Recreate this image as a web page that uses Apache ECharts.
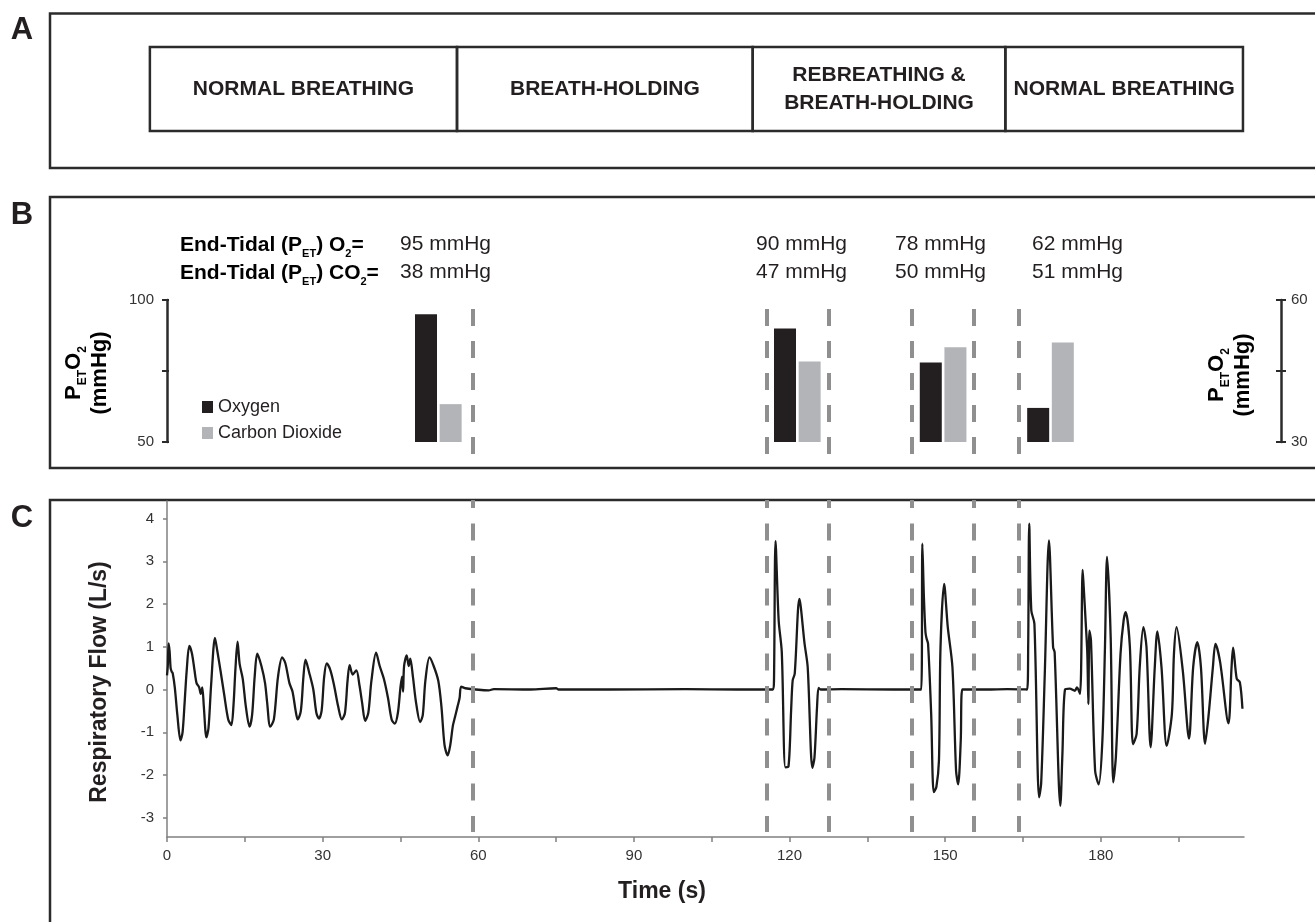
<!DOCTYPE html>
<html>
<head>
<meta charset="utf-8">
<script src="https://cdn.jsdelivr.net/npm/echarts@6/dist/echarts.min.js"></script>
<style>
html,body{margin:0;padding:0;background:#fff;}
#chart{width:1315px;height:922px;}
</style>
</head>
<body>
<div id="chart"></div>
<script>
// ---------------- DATA ----------------
const phaseNames = ['NORMAL BREATHING', 'BREATH-HOLDING', 'REBREATHING &\nBREATH-HOLDING', 'NORMAL BREATHING'];
const phaseBounds = [-3.3, 55.9, 112.9, 161.6, 207.4];          // s
const barTimes = [52.3, 121.5, 149.6, 170.3];                    // s
const o2Values = [95, 90, 78, 62];                               // mmHg
const co2Values = [38, 47, 50, 51];                              // mmHg
const dashTimes = [59.0, 115.6, 127.6, 143.6, 155.5, 164.2];     // s
const o2Ticks = [50, 75, 100];
const o2TickLabels = [50, 100];
const co2Ticks = [30, 45, 60];
const co2TickLabels = [30, 60];
const flowTicks = [-3, -2, -1, 0, 1, 2, 3, 4];
const timeTickLabels = [0, 30, 60, 90, 120, 150, 180];
const timeTicks = [0, 15, 30, 45, 60, 75, 90, 105, 120, 135, 150, 165, 180, 195];
const respFlow = [
  [0,0.33],[0.15,0.55],[0.3,1.08],[0.5,0.9],[0.7,0.5],[0.9,0.42],[1.1,0.38],[1.5,0.05],[2.0,-0.6],[2.6,-1.19],
  [3.0,-1.0],[3.4,-0.3],[3.8,0.45],[4.3,1.02],[4.8,0.85],[5.3,0.45],[5.7,0.15],[6.2,0.05],[6.5,-0.1],[6.8,0.05],
  [7.1,-0.4],[7.6,-1.12],[8.0,-0.9],[8.5,0.1],[9.25,1.21],[9.7,0.9],[10.3,0.45],[11.0,-0.1],[11.8,-0.7],[12.4,-0.83],
  [12.8,-0.4],[13.2,0.5],[13.6,1.12],[14.0,0.6],[14.6,0.25],[15.2,-0.4],[15.9,-0.87],[16.4,-0.6],[16.9,0.3],[17.4,0.84],
  [18.2,0.55],[18.9,0.15],[19.3,-0.3],[19.9,-0.87],[20.6,-0.7],[21.4,0.3],[22.2,0.75],[22.8,0.62],[23.6,0.15],[24.2,-0.05],
  [24.8,-0.5],[25.2,-0.7],[25.8,-0.5],[26.3,0.3],[26.7,0.7],[27.4,0.4],[28.2,0.0],[28.8,-0.55],[29.3,-0.68],[29.8,-0.5],
  [30.3,0.3],[30.8,0.61],[31.5,0.45],[32.2,0.1],[33.0,-0.4],[33.7,-0.7],[34.3,-0.55],[34.8,0.2],[35.2,0.57],[35.8,0.35],
  [36.5,0.45],[37.1,0.1],[37.6,-0.3],[38.2,-0.73],[38.8,-0.55],[39.4,0.2],[40.3,0.86],[41.0,0.55],[41.8,0.25],[42.6,-0.2],
  [43.3,-0.7],[43.9,-0.8],[44.5,-0.55],[45.0,0.05],[45.3,0.3],[45.5,-0.05],[45.7,0.55],[46.2,0.8],[46.6,0.55],[46.9,0.72],
  [47.4,0.3],[48.0,-0.3],[48.8,-0.76],[49.3,-0.6],[49.8,0.2],[50.6,0.75],[51.4,0.55],[52.3,0.2],[52.9,-0.4],[53.5,-1.3],
  [54.1,-1.54],[54.6,-1.3],[55.1,-0.85],[55.5,-0.65],[56.0,-0.4],[56.4,-0.2],[56.7,0.07],[57.5,0.03],
  [62.0,-0.02],[63.0,0.01],[70.0,0.0],[75.0,0.03],[75.5,0.0],[85.0,0.0],[100.0,0.01],[110.0,0.0],[116.8,0.0],
  [117.0,0.2],[117.3,3.47],[117.9,1.62],[118.5,0.88],[119.2,-1.82],[119.8,-1.8],[120.3,-0.5],[120.6,0.21],[121.0,0.37],
  [121.9,2.12],[122.9,1.07],[123.5,0.52],[124.4,-1.83],[124.8,-1.6],[125.3,-0.41],[125.6,0.04],[126.0,0.0],
  [130.0,0.01],[140.0,0.0],[145.4,0.0],
  [145.6,3.41],[145.9,2.16],[146.2,1.34],[146.4,1.2],[146.7,1.07],[147.3,-0.57],[147.8,-2.4],[148.3,-2.28],[148.8,-1.66],
  [149.1,0.99],[149.8,2.47],[150.5,1.46],[151.4,0.52],[152.1,-1.9],[152.5,-2.22],[153.0,-1.2],[153.3,0.0],
  [158.0,0.0],[162.0,0.01],[165.8,0.0],
  [166.0,1.0],[166.2,3.88],[166.6,1.85],[167.2,1.54],[168.1,-2.52],[168.5,-2.2],[169.2,0.37],[170.0,3.49],[170.8,0.99],
  [171.1,0.87],[172.2,-2.72],[172.6,-1.5],[173.1,0.0],[174.0,0.02],[175.0,-0.03],[175.4,0.05],[176.0,-0.1],[176.5,2.8],
  [176.7,2.4],[177.1,1.54],[177.4,0.84],[177.6,-0.34],[177.8,1.38],[178.1,1.15],[178.9,-1.9],[179.6,-2.22],[180.3,-1.2],
  [180.8,0.99],[181.2,3.1],[181.9,1.23],[182.4,-2.17],[182.9,-1.58],[183.8,0.84],[184.4,1.62],[184.8,1.81],[185.6,1.0],
  [186.2,-1.28],[186.9,-1.04],[187.5,0.52],[188.2,1.46],[188.8,1.0],[189.6,-1.35],[190.4,0.52],[190.9,1.36],[191.7,0.52],
  [192.7,-1.32],[193.7,-0.57],[194.1,0.84],[194.6,1.46],[195.8,0.44],[197.0,-1.15],[197.8,0.52],[198.6,1.11],[199.3,0.52],
  [200.1,-1.27],[200.8,-0.57],[201.6,0.52],[202.1,1.07],[203.0,0.64],[204.6,-0.79],[205.2,0.52],[205.5,0.98],[206.2,0.25],
  [206.8,0.17],[207.3,-0.45]
];

// ---------------- STYLE ----------------
const FONT = "'Liberation Sans', Arial, Helvetica, sans-serif";
const INK = '#231f20';
const FRAME = '#2b2b2b';
const DASH = '#8f8f8f';
const GRID_LEFT = 167, GRID_W = 1077, T_MAX = 207.6;

const chart = echarts.init(document.getElementById('chart'), null, {renderer: 'canvas'});

function hiddenX(gi) {
  return {type: 'value', gridIndex: gi, min: 0, max: T_MAX, show: false};
}
function hiddenY(gi) {
  return {type: 'value', gridIndex: gi, min: 0, max: 1, show: false};
}
function panelAxis(gi, pos, offset, min, max, ticks, labels, inside, margin) {
  return {
    type: 'value', gridIndex: gi, position: pos, offset: offset, min: min, max: max,
    axisLine: {show: !inside, lineStyle: {color: FRAME, width: 2.5}},
    axisTick: {show: true, inside: inside, length: 5, customValues: ticks, lineStyle: {color: FRAME, width: 2}},
    axisLabel: inside ? {show: false} : {show: true, customValues: labels, margin: margin, fontSize: 15, color: '#333', fontFamily: FONT},
    splitLine: {show: false}
  };
}

const richSub = {
  b: {fontSize: 21, fontWeight: 'bold', fontFamily: FONT, color: INK, lineHeight: 22},
  s: {fontSize: 11, fontWeight: 'bold', fontFamily: FONT, color: INK, lineHeight: 11, padding: [18, 0, 0, 0]}
};
const richTitle = {
  b: {fontSize: 22, fontWeight: 'bold', fontFamily: FONT, color: INK, lineHeight: 26},
  s: {fontSize: 12, fontWeight: 'bold', fontFamily: FONT, color: INK, lineHeight: 12, padding: [18, 0, 0, 0]}
};

const valueLeft = [400, 756, 895, 1032];
const graphics = [
  {type: 'rect', silent: true, shape: {x: 50, y: 13.5, width: 1300, height: 154.5}, style: {fill: 'none', stroke: FRAME, lineWidth: 2.5}},
  {type: 'rect', silent: true, shape: {x: 50, y: 197, width: 1300, height: 271}, style: {fill: 'none', stroke: FRAME, lineWidth: 2.5}},
  {type: 'rect', silent: true, shape: {x: 50, y: 500, width: 1300, height: 460}, style: {fill: 'none', stroke: FRAME, lineWidth: 2.5}},
  {type: 'text', silent: true, x: 22, y: 30, style: {text: 'A', fontSize: 31, fontWeight: 'bold', fontFamily: FONT, fill: INK, align: 'center', verticalAlign: 'middle'}},
  {type: 'text', silent: true, x: 22, y: 215, style: {text: 'B', fontSize: 31, fontWeight: 'bold', fontFamily: FONT, fill: INK, align: 'center', verticalAlign: 'middle'}},
  {type: 'text', silent: true, x: 22, y: 518, style: {text: 'C', fontSize: 31, fontWeight: 'bold', fontFamily: FONT, fill: INK, align: 'center', verticalAlign: 'middle'}},
  {type: 'text', silent: true, x: 180, y: 245, style: {text: '{b|End-Tidal (P}{s|ET}{b|) O}{s|2}{b|=}', rich: richSub, align: 'left', verticalAlign: 'middle'}},
  {type: 'text', silent: true, x: 180, y: 273, style: {text: '{b|End-Tidal (P}{s|ET}{b|) CO}{s|2}{b|=}', rich: richSub, align: 'left', verticalAlign: 'middle'}},
  {type: 'text', silent: true, x: 87, y: 373, rotation: Math.PI / 2, style: {text: '{b|P}{s|ET}{b|O}{s|2}\n{b|(mmHg)}', rich: richTitle, align: 'center', verticalAlign: 'middle'}},
  {type: 'text', silent: true, x: 1230, y: 375, rotation: Math.PI / 2, style: {text: '{b|P}{s|ET}{b|O}{s|2}\n{b|(mmHg)}', rich: richTitle, align: 'center', verticalAlign: 'middle'}},
  {type: 'text', silent: true, x: 100, y: 682, rotation: Math.PI / 2, style: {text: 'Respiratory Flow (L/s)', fontSize: 23, fontWeight: 'bold', fontFamily: FONT, fill: INK, align: 'center', verticalAlign: 'middle'}},
  {type: 'text', silent: true, x: 662, y: 892, style: {text: 'Time (s)', fontSize: 23, fontWeight: 'bold', fontFamily: FONT, fill: INK, align: 'center', verticalAlign: 'middle'}}
];
o2Values.forEach(function (v, i) {
  graphics.push({type: 'text', silent: true, x: valueLeft[i], y: 244, style: {text: v + ' mmHg', fontSize: 21, fontFamily: FONT, fill: INK, align: 'left', verticalAlign: 'middle'}});
  graphics.push({type: 'text', silent: true, x: valueLeft[i], y: 272, style: {text: co2Values[i] + ' mmHg', fontSize: 21, fontFamily: FONT, fill: INK, align: 'left', verticalAlign: 'middle'}});
});

const option = {
  animation: false,
  backgroundColor: '#fff',
  textStyle: {fontFamily: FONT},
  legend: {
    data: ['Oxygen', 'Carbon Dioxide'], orient: 'vertical', left: 202, top: 398, padding: 0,
    itemWidth: 11, itemHeight: 12, itemGap: 8, icon: 'rect',
    textStyle: {fontSize: 18, color: INK, fontFamily: FONT}
  },
  grid: [
    {left: GRID_LEFT, width: GRID_W, top: 47, height: 84},
    {left: GRID_LEFT, width: GRID_W, top: 300, height: 142},
    {left: GRID_LEFT, width: GRID_W, top: 309, height: 146},
    {left: GRID_LEFT, width: GRID_W, top: 501, height: 336},
    {left: GRID_LEFT, width: GRID_W, top: 500, height: 332}
  ],
  xAxis: [
    hiddenX(0), hiddenX(1), hiddenX(2),
    {
      type: 'value', gridIndex: 3, min: 0, max: T_MAX,
      axisLine: {show: true, onZero: false, lineStyle: {color: '#808080', width: 1.5}},
      axisTick: {show: true, length: 5, customValues: timeTicks, lineStyle: {color: '#808080', width: 1.5}},
      axisLabel: {customValues: timeTickLabels, margin: 11, fontSize: 15, color: '#333', fontFamily: FONT},
      splitLine: {show: false}
    },
    hiddenX(4)
  ],
  yAxis: [
    hiddenY(0),
    panelAxis(1, 'left', 3, 50, 100, o2Ticks, o2TickLabels, false, 10),
    panelAxis(1, 'right', 37, 30, 60, co2Ticks, co2TickLabels, false, 10),
    panelAxis(1, 'left', 3, 50, 100, o2Ticks, o2TickLabels, true, 10),
    panelAxis(1, 'right', 37, 30, 60, co2Ticks, co2TickLabels, true, 10),
    hiddenY(2),
    {
      type: 'value', gridIndex: 3, min: -3.45, max: 4.41,
      axisLine: {show: true, onZero: false, lineStyle: {color: '#808080', width: 1.5}},
      axisTick: {show: true, length: 4, customValues: flowTicks, lineStyle: {color: '#808080', width: 1.5}},
      axisLabel: {customValues: flowTicks, margin: 13, fontSize: 15, color: '#333', fontFamily: FONT},
      splitLine: {show: false}
    },
    hiddenY(4)
  ],
  series: [
    {
      type: 'custom', name: 'phases', xAxisIndex: 0, yAxisIndex: 0, clip: false, silent: true,
      data: phaseNames.map(function (n, i) { return [phaseBounds[i], phaseBounds[i + 1], i]; }),
      renderItem: function (params, api) {
        const p0 = api.coord([api.value(0), 1]);
        const p1 = api.coord([api.value(1), 0]);
        return {
          type: 'group',
          children: [
            {type: 'rect', shape: {x: p0[0], y: p0[1], width: p1[0] - p0[0], height: p1[1] - p0[1]},
             style: {fill: 'rgba(0,0,0,0)', stroke: FRAME, lineWidth: 2.5}},
            {type: 'text', style: {text: phaseNames[params.dataIndex], x: (p0[0] + p1[0]) / 2, y: (p0[1] + p1[1]) / 2,
             align: 'center', verticalAlign: 'middle', fontSize: 21, fontWeight: 'bold', fontFamily: FONT, lineHeight: 28, fill: INK}}
          ]
        };
      }
    },
    {
      type: 'bar', name: 'Oxygen', xAxisIndex: 1, yAxisIndex: 1, barWidth: 22, barGap: '12%', clip: true,
      itemStyle: {color: INK},
      data: barTimes.map(function (t, i) { return [t, o2Values[i]]; })
    },
    {
      type: 'bar', name: 'Carbon Dioxide', xAxisIndex: 1, yAxisIndex: 2, barWidth: 22, barGap: '12%', clip: true,
      itemStyle: {color: '#b2b4b7'},
      data: barTimes.map(function (t, i) { return [t, co2Values[i]]; })
    },
    {
      type: 'lines', coordinateSystem: 'cartesian2d', xAxisIndex: 2, yAxisIndex: 5, silent: true, z: 5,
      lineStyle: {color: DASH, width: 4, opacity: 1, type: [17, 15]},
      data: dashTimes.map(function (t) { return {coords: [[t, 1], [t, 0]]}; })
    },
    {
      type: 'line', name: 'Respiratory Flow', xAxisIndex: 3, yAxisIndex: 6, showSymbol: false, symbol: 'none',
      smooth: 0.3, lineStyle: {color: '#1a1a1a', width: 2.3, join: 'round'}, z: 3, silent: true,
      data: respFlow
    },
    {
      type: 'lines', coordinateSystem: 'cartesian2d', xAxisIndex: 4, yAxisIndex: 7, silent: true, z: 5,
      lineStyle: {color: DASH, width: 4, opacity: 1, type: [17, 15.5], dashOffset: 9},
      data: dashTimes.map(function (t) { return {coords: [[t, 1], [t, 0]]}; })
    }
  ],
  graphic: {elements: graphics}
};
chart.setOption(option);
</script>
</body>
</html>
